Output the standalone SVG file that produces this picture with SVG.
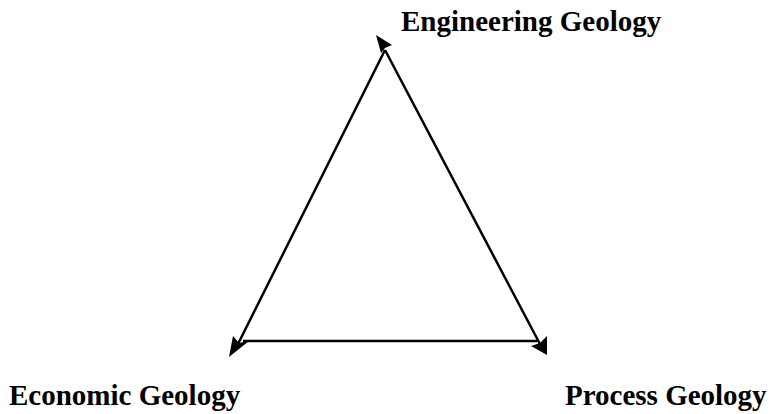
<svg xmlns="http://www.w3.org/2000/svg" width="771" height="414" viewBox="0 0 771 414">
<style>
.lbl{font-family:"Liberation Serif","Times New Roman",serif;font-weight:bold;font-size:29px;fill:#000}
.ln{stroke:#000;stroke-width:2.5;fill:none}
.ah{fill:#000;stroke:none}
</style>
<rect width="771" height="414" fill="#fff"/>
<g id="connectors">
<line class="ln" x1="385" y1="50" x2="236" y2="348"/>
<line class="ln" x1="385" y1="50" x2="541" y2="346"/>
<line class="ln" x1="243" y1="341" x2="537" y2="341"/>
<polygon class="ah" points="376,35 392,45 385,48 381,53"/>
<polygon class="ah" points="229,357 233,336 239,343 249,341"/>
<polygon class="ah" points="547,355 547,336 540,343 531,346"/>
</g>
<g id="engineering"><text class="lbl" x="401" y="31">Engineering Geology</text></g>
<g id="economic"><text class="lbl" x="9" y="405">Economic Geology</text></g>
<g id="process"><text class="lbl" x="565" y="405">Process Geology</text></g>
</svg>
